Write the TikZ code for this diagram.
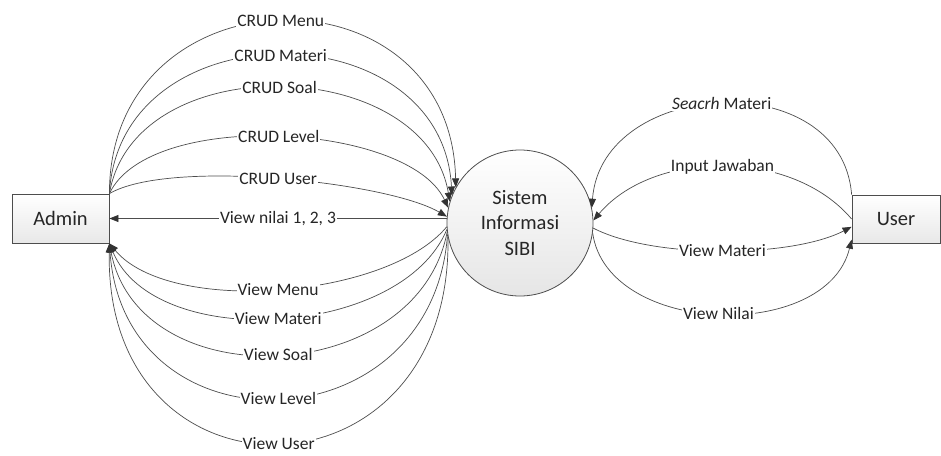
\documentclass[tikz,border=0pt]{standalone}
\usepackage{fontspec}
\setmainfont{Carlito}
\usetikzlibrary{arrows.meta}
\definecolor{ln}{HTML}{4D4D4D}
\definecolor{tip}{HTML}{333333}
\definecolor{tx}{HTML}{262626}
\begin{document}
\begin{tikzpicture}[x=1pt,y=-1pt,
  conn/.style={draw=ln, line width=0.7pt},
  arr/.style={conn,-{Triangle[length=9pt,width=7pt,color=tip]}},
  lbl/.style={fill=white, inner sep=1pt, text=tx, font=\fontsize{17.5}{19}\selectfont},
  ent/.style={draw=ln, line width=0.8pt, rectangle, minimum width=97pt, minimum height=49pt,
    top color=white, bottom color=black!9, text=tx, font=\fontsize{20.5}{24}\selectfont},
  proc/.style={draw=ln, line width=0.8pt, circle, minimum size=146pt, inner sep=0pt, align=center,
    top color=white, bottom color=black!10, text=tx, font=\fontsize{20.5}{25.5}\selectfont}]
\useasboundingbox (0,0) rectangle (941,455);
\fill[white] (0,0) rectangle (941,455);
\node[ent] (admin) at (60.5,218.5) {Admin};
\node[ent, minimum width=88pt, minimum height=48pt] (user) at (896,219) {User};
\node[proc] (sis) at (520,223) {Sistem\\Informasi\\SIBI};
% CRUD flows
\draw[arr] (admin.north east) .. controls +(0,-226) and +(-5,-226) .. (sis.151) node[lbl,pos=0.5] {CRUD Menu};
\draw[arr] (admin.north east) .. controls +(10,-186) and +(-10,-186) .. (sis.158) node[lbl,pos=0.5] {CRUD Materi};
\draw[arr] (admin.north east) .. controls +(25,-147) and +(-25,-147) .. (sis.163) node[lbl,pos=0.5] {CRUD Soal};
\draw[arr] (admin.north east) .. controls +(40,-85) and +(-40,-85) .. (sis.168) node[lbl,pos=0.5] {CRUD Level};
\draw[arr] (admin.north east) .. controls +(60,-35) and +(-60,-35) .. (sis.175) node[lbl,pos=0.5] {CRUD User};
\draw[arr] (sis.west |- admin.east) -- (admin.east) node[lbl,pos=0.5] {View nilai 1, 2, 3};
% View flows
\draw[arr] (sis.183) .. controls +(-60,72) and +(60,72) .. (admin.south east) node[lbl,pos=0.5] {View Menu};
\draw[arr] (sis.185) .. controls +(-45,109) and +(45,109) .. (admin.south east) node[lbl,pos=0.5] {View Materi};
\draw[arr] (sis.187) .. controls +(-30,156) and +(30,156) .. (admin.south east) node[lbl,pos=0.5] {View Soal};
\draw[arr] (sis.189) .. controls +(-15,213) and +(15,213) .. (admin.south east) node[lbl,pos=0.5] {View Level};
\draw[arr] (sis.191) .. controls +(5,271) and +(-5,271) .. (admin.south east) node[lbl,pos=0.5] {View User};
% User side
\draw[arr] (user.north west) .. controls +(-10,-130) and +(10,-130) .. (sis.12) node[lbl,pos=0.5] {\textit{Seacrh} Materi};
\draw[arr] (user.west) .. controls +(-60,-71) and +(60,-71) .. (sis.2) node[lbl,pos=0.5] {Input Jawaban};
\draw[arr] (sis.356) .. controls +(60,31) and +(-60,31) .. (user.190) node[lbl,pos=0.5] {View Materi};
\draw[arr] (sis.352) .. controls +(15,103) and +(-25,103) .. (user.205) node[lbl,pos=0.5] {View Nilai};
\end{tikzpicture}
\end{document}
